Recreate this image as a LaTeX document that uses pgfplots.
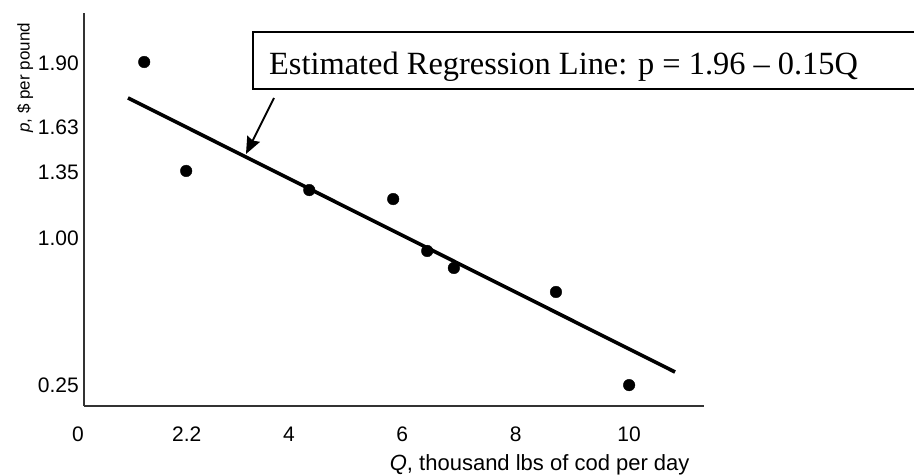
\documentclass[border=0pt]{standalone}
\usepackage{fontspec}
\setmainfont{Liberation Sans}
\newfontfamily\timesfont{Liberation Serif}
\usepackage{pgfplots}
\pgfplotsset{compat=1.18}
\usetikzlibrary{arrows.meta}

\begin{document}
\begin{tikzpicture}
% fixed page: 914 x 475, axis origin at (84,406) from top left
\useasboundingbox (-84pt,-69pt) rectangle (830pt,406pt);
\begin{axis}[
    scale only axis,
    width=620pt, height=393pt,
    at={(0pt,0pt)}, anchor=south west,
    xmin=0.388, xmax=11.32,
    ymin=0.143, ymax=2.156,
    axis lines=left,
    axis line style={black!80, line width=1.8pt, -},
    major tick length=0pt,
    xtick={2.2,4,6,8,10},
    xticklabels={2.2,4,6,8,10},
    extra x ticks={0.388},
    extra x tick labels={0},
    extra x tick style={xticklabel style={xshift=-6pt}},
    ytick={0.25,1.003,1.342,1.572,1.90},
    yticklabels={0.25,1.00,1.35,1.63,1.90},
    /pgf/number format/assume math mode=true,
    tick label style={font=\fontsize{21}{24}\selectfont, inner sep=0pt},
    yticklabel style={anchor=east, xshift=-5pt},
    xticklabel style={anchor=north, yshift=-21pt},
    xlabel={\textit{Q}, thousand lbs of cod per day},
    xlabel style={font=\fontsize{22}{26}\selectfont, at={(axis description cs:0.735,-0.150)}, anchor=center},
    ylabel={\textit{p}, \$ per pound},
    ylabel style={font=\fontsize{17}{20}\selectfont, at={(axis description cs:-0.095,0.835)}, anchor=center},
    clip=false,
]
\addplot[only marks, mark=*, mark size=5.8pt, black] coordinates {
    (1.45,1.905)
    (2.19,1.347)
    (4.36,1.249)
    (5.84,1.203)
    (6.44,0.937)
    (6.91,0.850)
    (8.71,0.727)
    (10.0,0.250)
};
\addplot[black, line width=3.6pt, no marks] coordinates {
    (1.164,1.721)
    (10.81,0.317)
};
\end{axis}
% annotation box, cut off by the right edge of the page
\draw[black, line width=1.8pt] (840pt,374pt) -- (169pt,374pt) -- (169pt,317pt) -- (840pt,317pt);
\node[anchor=base west, inner sep=0pt, font=\timesfont\fontsize{32.4}{36}\selectfont] at (185pt,331pt)
    {Estimated Regression Line: p = 1.96 – 0.15Q};
\draw[black, line width=1.8pt, -{Stealth[length=17pt, width=14pt, inset=2pt]}] (190pt,308pt) -- (162pt,252pt);
\end{tikzpicture}
\end{document}
